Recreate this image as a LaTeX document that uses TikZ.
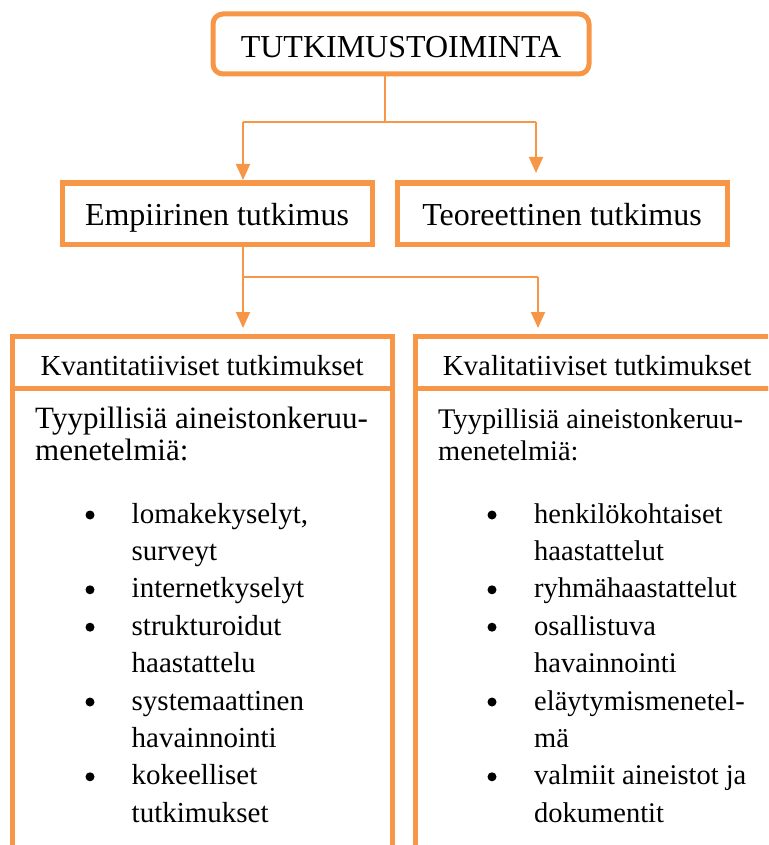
\documentclass[tikz,border=0pt]{standalone}
\usepackage{fontspec}
\setmainfont{Liberation Serif}
\usepackage{tikz}
\usetikzlibrary{arrows.meta}
\definecolor{tangerine}{HTML}{F79646}

\begin{document}
\begin{tikzpicture}[x=1pt,y=-1pt,
  box/.style={draw=tangerine,line width=5pt,inner sep=0pt,outer sep=0pt,align=center},
  link/.style={draw=tangerine,line width=1.5pt},
  arrowlink/.style={draw=tangerine,line width=2pt,-{Triangle[width=14pt,length=16pt]}},
  item/.style={anchor=base west,inner sep=0pt,font=\fontsize{29}{35}\selectfont},
  dot/.style={circle,fill=black,inner sep=0pt,minimum size=9pt}]
  \useasboundingbox (0,0) rectangle (768,845);
  \clip (0,0) rectangle (768,845);

  % boxes
  \node[box,rounded corners=10pt,minimum width=376pt,minimum height=60pt,
    text height=28pt,text depth=0pt,font=\fontsize{32}{38}\selectfont] (top) at (401,44) {TUTKIMUSTOIMINTA};
  \node[box,minimum width=310pt,minimum height=61pt,text height=23pt,text depth=0pt,
    font=\fontsize{32}{38}\selectfont] (emp) at (217,213.5) {Empiirinen tutkimus};
  \node[box,minimum width=330pt,minimum height=61pt,text height=23pt,text depth=0pt,
    font=\fontsize{32}{38}\selectfont] (teo) at (562,213.5) {Teoreettinen tutkimus};
  \node[box,minimum width=380pt,minimum height=52pt,text height=26pt,text depth=0pt,
    font=\fontsize{29}{35}\selectfont] (kvan) at (202,362) {Kvantitatiiviset tutkimukset};
  \node[box,minimum width=364pt,minimum height=52pt,text height=26pt,text depth=0pt,
    font=\fontsize{29}{35}\selectfont] (kval) at (597,362) {Kvalitatiiviset tutkimukset};
  \node[box,anchor=north,minimum width=380pt,minimum height=520pt] (kvanbody) at (kvan.south) {};
  \node[box,anchor=north,minimum width=364pt,minimum height=520pt] (kvalbody) at (kval.south) {};

  % connectors
  \coordinate (fork1) at (385,122);
  \coordinate (emparr) at (243,122);
  \coordinate (teoarr) at (536,122);
  \draw[link] (top.south -| fork1) -- (fork1);
  \draw[link] (emparr) -- (teoarr);
  \draw[arrowlink,shorten >=3pt] (emparr) -- (emparr |- emp.north);
  \draw[arrowlink,shorten >=10pt] (teoarr) -- (teoarr |- teo.north);

  \coordinate (fork2) at (243,277);
  \coordinate (kvalarr) at (538,277);
  \draw[arrowlink,shorten >=8pt] (emp.south -| fork2) -- (fork2 |- kvan.north);
  \draw[link] (fork2) -- (kvalarr);
  \draw[arrowlink,shorten >=8pt] (kvalarr) -- (kvalarr |- kval.north);

  % lists
  \node[item,font=\fontsize{31}{37}\selectfont] (kvanlead) at (35,428) {Tyypillisiä aineistonkeruu-};
  \node[item,font=\fontsize{31}{37}\selectfont] (kvanlead2) at (35,460) {menetelmiä:};
  \node[item,font=\fontsize{28.4}{34}\selectfont] (kvallead) at (438,428) {Tyypillisiä aineistonkeruu-};
  \node[item,font=\fontsize{28.4}{34}\selectfont] (kvallead2) at (438,460) {menetelmiä:};

  \foreach \n/\mark/\txt in {0/1/{lomakekyselyt,},1/0/surveyt,2/1/internetkyselyt,
      3/1/strukturoidut,4/0/haastattelu,5/1/systemaattinen,6/0/havainnointi,
      7/1/kokeelliset,8/0/tutkimukset}{
    \node[item] (kvanline\n) at (131.5,{523+37.4*\n}) {\txt};
    \ifnum\mark=1 \node[dot] (kvandot\n) at (90,{515+37.4*\n}) {};\fi
  }
  \foreach \n/\mark/\txt in {0/1/henkilökohtaiset,1/0/haastattelut,2/1/ryhmähaastattelut,
      3/1/osallistuva,4/0/havainnointi,5/1/eläytymismenetel-,6/0/mä,
      7/1/valmiit aineistot ja,8/0/dokumentit}{
    \node[item,font=\fontsize{28.5}{34}\selectfont] (kvalline\n) at (534,{523+37.4*\n}) {\txt};
    \ifnum\mark=1 \node[dot] (kvaldot\n) at (492,{515+37.4*\n}) {};\fi
  }
\end{tikzpicture}
\end{document}
